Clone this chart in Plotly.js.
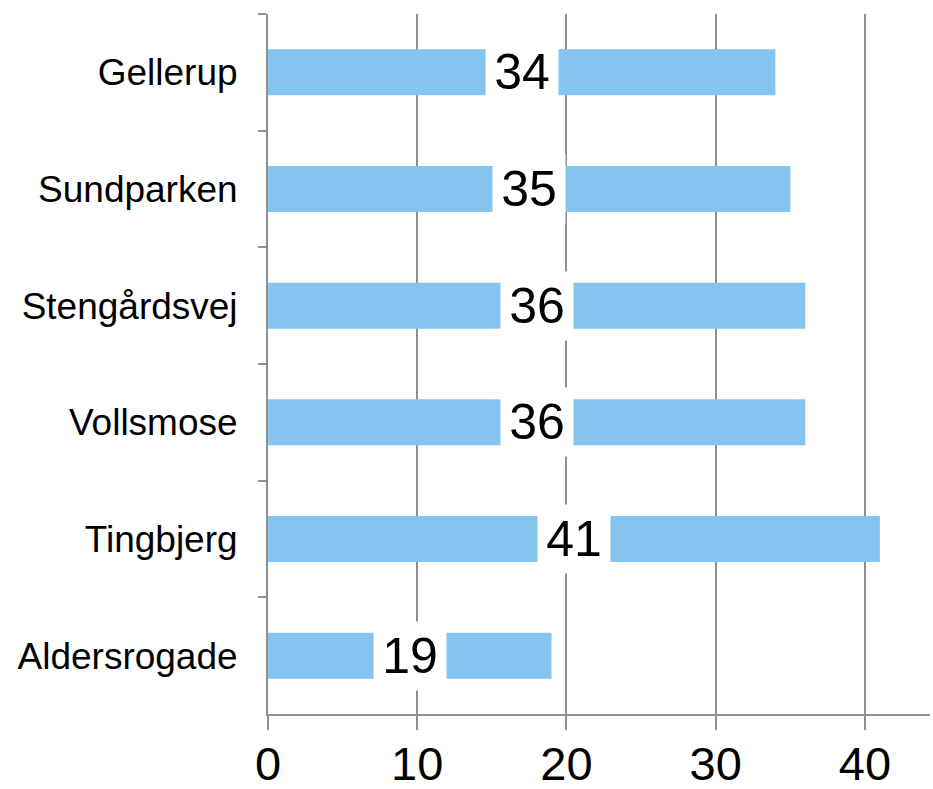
<!DOCTYPE html>
<html lang="en">
<head>
    <meta charset="UTF-8">
    <title>Bar chart</title>
    <style>
        html, body { margin: 0; padding: 0; background: #fff; }
        #chart { width: 933px; height: 789px; }
    </style>
</head>
<body>
<div id="chart"></div>
<script src="https://cdn.plot.ly/plotly-3.0.1.min.js"></script>
<script>
    // areas, top to bottom
    var areas = ['Gellerup', 'Sundparken', 'Stengårdsvej', 'Vollsmose', 'Tingbjerg', 'Aldersrogade'];
    var values = [34, 35, 36, 36, 41, 19];
    var xTicks = [0, 10, 20, 30, 40];

    var gridGrey = '#8f8f8f';
    var font = 'Arial, "Liberation Sans", sans-serif';

    var trace = {
        type: 'bar',
        orientation: 'h',
        x: values,
        y: areas,
        marker: { color: '#85c4ef' },
        hoverinfo: 'none',
        showlegend: false
    };

    // value labels sit in the middle of each bar on a white box
    var labels = values.map(function (v, i) {
        return {
            x: v / 2,
            y: areas[i],
            xref: 'x',
            yref: 'y',
            text: String(v),
            showarrow: false,
            bgcolor: '#ffffff',
            width: 70,
            height: 66,
            font: { family: font, size: 50, color: '#000' }
        };
    });

    var layout = {
        width: 933,
        height: 789,
        margin: { l: 268, r: 3, t: 14, b: 75 },
        paper_bgcolor: '#fff',
        plot_bgcolor: '#fff',
        bargap: 0.606,
        xaxis: {
            range: [0, 44.36],
            tickvals: xTicks,
            ticktext: xTicks.map(String),
            showgrid: true,
            gridcolor: gridGrey,
            gridwidth: 2,
            zeroline: false,
            showline: true,
            linecolor: gridGrey,
            linewidth: 2,
            ticks: 'outside',
            ticklen: 14,
            tickwidth: 2,
            tickcolor: gridGrey,
            ticklabelstandoff: -6,
            tickfont: { family: font, size: 47, color: '#000' },
            fixedrange: true
        },
        yaxis: {
            type: 'category',
            autorange: 'reversed',
            showgrid: false,
            zeroline: false,
            showline: true,
            linecolor: gridGrey,
            linewidth: 2,
            ticks: 'outside',
            tickson: 'boundaries',
            ticklen: 8,
            tickwidth: 2,
            tickcolor: gridGrey,
            ticklabelstandoff: 21,
            tickfont: { family: font, size: 37, color: '#000' },
            fixedrange: true
        },
        annotations: labels
    };

    Plotly.newPlot('chart', [trace], layout, { displayModeBar: false, staticPlot: true });
</script>
</body>
</html>
